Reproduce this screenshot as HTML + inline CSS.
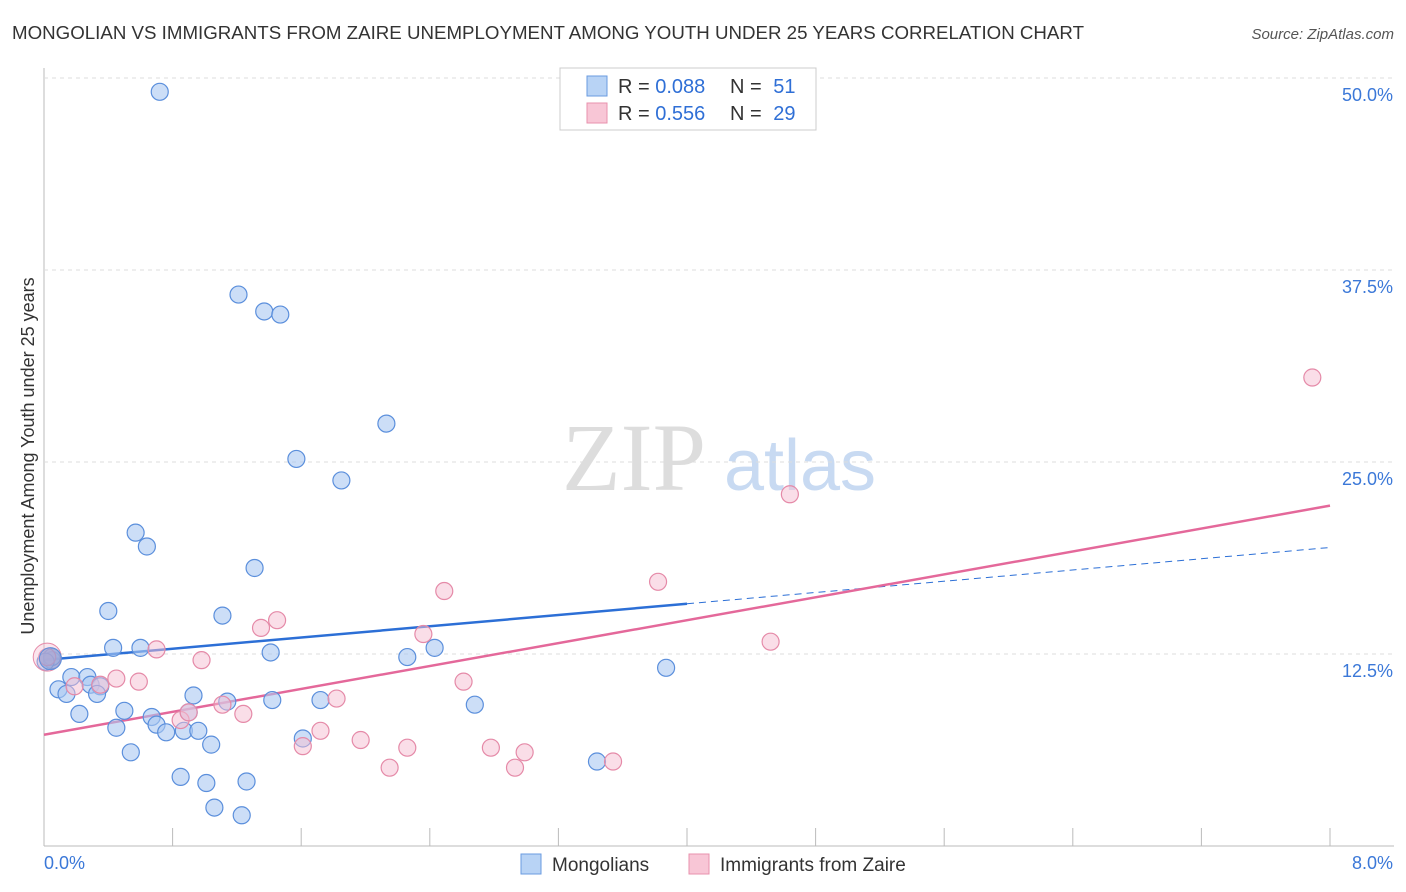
<!DOCTYPE html>
<html><head><meta charset="utf-8"><style>
body{margin:0;background:#fff;font-family:"Liberation Sans",sans-serif;}
svg{display:block}
</style></head><body>
<svg id="c" width="1406" height="892">
<text x="12" y="39" font-size="18" fill="#333" textLength="1072" lengthAdjust="spacingAndGlyphs">MONGOLIAN VS IMMIGRANTS FROM ZAIRE UNEMPLOYMENT AMONG YOUTH UNDER 25 YEARS CORRELATION CHART</text>
<text x="1394" y="39" font-size="15" fill="#555" font-style="italic" text-anchor="end">Source: ZipAtlas.com</text>
<g>
<text x="634" y="490" font-size="96" fill="#ddd" font-family="Liberation Serif,serif" text-anchor="middle">ZIP</text>
<text x="800" y="490" font-size="72" fill="#c8daf2" text-anchor="middle">atlas</text>
</g>
<g id="grid"></g>
<g id="lines"></g>
<g id="pts"></g>
<text transform="translate(34,456) rotate(-90)" font-size="18" fill="#333" text-anchor="middle">Unemployment Among Youth under 25 years</text>
<g>
<rect x="560" y="68" width="256" height="62" fill="#fff" stroke="#ccc"/>
<rect x="587" y="76" width="20" height="20" fill="#b8d3f5" stroke="#6a9be0"/>
<rect x="587" y="103" width="20" height="20" fill="#f8c6d6" stroke="#e891ad"/>
<text x="618" y="93" font-size="20" fill="#333">R = <tspan fill="#2f6fd6">0.088</tspan></text>
<text x="730" y="93" font-size="20" fill="#333">N = <tspan fill="#2f6fd6" dx="6">51</tspan></text>
<text x="618" y="120" font-size="20" fill="#333">R = <tspan fill="#2f6fd6">0.556</tspan></text>
<text x="730" y="120" font-size="20" fill="#333">N = <tspan fill="#2f6fd6" dx="6">29</tspan></text>
</g>
<g>
<rect x="521" y="854" width="20" height="20" fill="#b8d3f5" stroke="#6a9be0"/>
<text x="552" y="871" font-size="19" fill="#333">Mongolians</text>
<rect x="689" y="854" width="20" height="20" fill="#f8c6d6" stroke="#e891ad"/>
<text x="720" y="871" font-size="19" fill="#333">Immigrants from Zaire</text>
</g>
</svg>
<script>
const xTicks=[0,0.8,1.6,2.4,3.2,4.0,4.8,5.6,6.4,7.2,8.0];
const yTicks=[12.5,25,37.5,50];
const yTickLabels=["12.5%","25.0%","37.5%","50.0%"];
const blueX=[0.72,1.21,1.37,1.47,2.13,1.57,1.85,0.57,0.64,1.31,0.40,1.11,0.43,0.60,1.41,2.26,2.43,3.87,0.05,0.09,0.14,0.17,0.27,0.29,0.35,0.33,0.22,0.50,0.45,0.54,0.67,0.70,0.76,0.90,0.93,0.87,0.96,1.04,1.14,1.42,1.72,1.61,2.68,0.85,1.01,1.26,1.06,1.23,3.44,0.05,0.01];
const blueY=[49.1,35.9,34.8,34.6,27.5,25.2,23.8,20.4,19.5,18.1,15.3,15.0,12.9,12.9,12.6,12.3,12.9,11.6,12.1,10.2,9.9,11.0,11.0,10.5,10.4,9.9,8.6,8.8,7.7,6.1,8.4,7.9,7.4,8.7,9.8,7.5,7.5,6.6,9.4,9.5,9.5,7.0,9.2,4.5,4.1,4.2,2.5,2.0,5.5,12.3,12.0];
const pinkX=[0.02,0.19,0.35,0.45,0.59,0.70,0.98,0.85,0.90,1.11,1.24,1.35,1.45,1.61,1.72,1.82,1.97,2.15,2.26,2.36,2.49,2.61,2.78,2.93,2.99,3.54,3.82,4.52,4.64,7.89];
const pinkY=[12.3,10.4,10.5,10.9,10.7,12.8,12.1,8.2,8.7,9.2,8.6,14.2,14.7,6.5,7.5,9.6,6.9,5.1,6.4,13.8,16.6,10.7,6.4,5.1,6.1,5.5,17.2,13.3,22.9,30.5];
const xs=v=>44+v/0.8*128.6, ys=v=>846-v*15.36;
const NS="http://www.w3.org/2000/svg";
function mk(t,a,p){const e=document.createElementNS(NS,t);for(const k in a)e.setAttribute(k,a[k]);p.appendChild(e);return e;}
const g=document.getElementById('grid');
mk('line',{x1:44,y1:68,x2:44,y2:846,stroke:'#bbb'},g);
mk('line',{x1:44,y1:846,x2:1394,y2:846,stroke:'#bbb'},g);
yTicks.forEach((v,i)=>{
 const l=mk('line',{x1:44,y1:ys(v),x2:1394,y2:ys(v),stroke:'#ddd','stroke-dasharray':'4,4'},g);
 
 
 const t=mk('text',{x:1393,y:ys(v)+23,'font-size':18,fill:'#3b78d8','text-anchor':'end'},g);t.textContent=yTickLabels[i];
 
 
});
xTicks.forEach((v,i)=>{if(i>0){const l=mk('line',{x1:xs(v),y1:828,x2:xs(v),y2:846,stroke:'#bbb'},g);
 
 }});
let t0=mk('text',{x:44,y:869,'font-size':18,fill:'#3b78d8'},g);t0.textContent='0.0%';


let t1=mk('text',{x:1393,y:869,'font-size':18,fill:'#3b78d8','text-anchor':'end'},g);t1.textContent='8.0%';


const P=document.getElementById('pts');
function pts(X,Y,f,s,n){X.forEach((x,i)=>{const c=mk('circle',{cx:xs(x),cy:ys(Y[i]),r:8.5,fill:f,stroke:s,'stroke-width':1.2},P);
 
 });}
pts(blueX,blueY,'rgba(170,200,242,0.6)','#5b8fdc','mongolian-point');
pts(pinkX,pinkY,'rgba(246,190,210,0.5)','#e58aa8','zaire-point');
mk('circle',{cx:xs(0.02),cy:ys(12.3),r:14,fill:'rgba(246,190,210,0.4)',stroke:'#e58aa8'},P);
mk('circle',{cx:xs(0.04),cy:ys(12.2),r:11,fill:'rgba(120,150,210,0.5)',stroke:'#5b8fdc'},P);
const L=document.getElementById('lines');
function lr(X,Y){const n=X.length,mx=X.reduce((a,b)=>a+b)/n,my=Y.reduce((a,b)=>a+b)/n;let sxy=0,sxx=0;X.forEach((x,i)=>{sxy+=(x-mx)*(Y[i]-my);sxx+=(x-mx)**2});const b=sxy/sxx;return[my-b*mx,b];}
let [ba,bb]=lr(blueX,blueY),[pa,pb]=lr(pinkX,pinkY);
let l1=mk('line',{x1:xs(0),y1:ys(ba),x2:xs(4.0),y2:ys(ba+bb*4),stroke:'#2c6fd6','stroke-width':2.5},L);


let l2=mk('line',{x1:xs(4.0),y1:ys(ba+bb*4),x2:xs(8),y2:ys(ba+bb*8),stroke:'#2c6fd6','stroke-width':1,'stroke-dasharray':'7,5'},L);


let l3=mk('line',{x1:xs(0),y1:ys(pa),x2:xs(8),y2:ys(pa+pb*8),stroke:'#e4689a','stroke-width':2.5},L);


</script>
</body></html>
